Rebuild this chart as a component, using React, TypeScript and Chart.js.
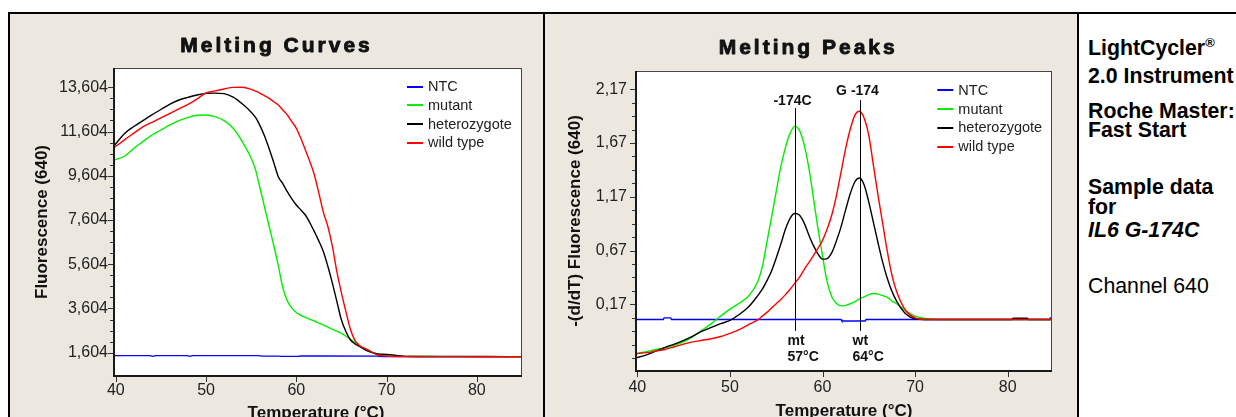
import React, { useEffect, useRef } from 'react';
import { Chart, registerables } from 'chart.js';

Chart.register(...registerables);

const FONT = "'Liberation Sans', Arial, Helvetica, sans-serif";
const BEIGE = '#ece8e0';

// ---------- shared series info ----------
const seriesNames = ['NTC', 'mutant', 'heterozygote', 'wild type'];
const seriesColors = ['#0000ff', '#00ee00', '#000000', '#ff0000'];

// ---------- Melting Curves ----------
const curveTemps = [39.8, 41, 42, 43, 44, 45, 46, 47, 48, 49, 50, 51, 52, 53, 54, 55, 55.5, 56, 56.5, 57, 57.5, 58, 58.5, 59, 59.5, 60, 60.5, 61, 61.5, 62, 62.5, 63, 63.5, 64, 64.5, 65, 65.5, 66, 66.5, 67, 68, 69, 70, 72, 75, 78, 81, 85];
const curveMutant = [10318, 10499, 10845, 11147, 11448, 11674, 11900, 12097, 12247, 12338, 12353, 12277, 12097, 11750, 11150, 10400, 9850, 9000, 8150, 7300, 6450, 5550, 4550, 3950, 3620, 3420, 3290, 3200, 3112, 3037, 2945, 2855, 2760, 2660, 2570, 2479, 2350, 2207, 2060, 1906, 1695, 1544, 1484, 1440, 1430, 1425, 1425, 1420];
const curveHetero = [10950, 11530, 11830, 12100, 12360, 12600, 12840, 13030, 13150, 13257, 13330, 13340, 13320, 13160, 12860, 12480, 12230, 11850, 11380, 10815, 10200, 9564, 9250, 8885, 8560, 8283, 8060, 7830, 7480, 7077, 6650, 6172, 5500, 4740, 3900, 3080, 2550, 2180, 2000, 1890, 1660, 1550, 1530, 1440, 1430, 1430, 1430, 1425];
const curveWild = [10870, 11240, 11530, 11815, 12020, 12220, 12430, 12630, 12830, 13080, 13350, 13440, 13530, 13600, 13604, 13514, 13430, 13333, 13220, 13107, 12950, 12805, 12579, 12353, 12051, 11750, 11297, 10770, 10242, 9640, 8810, 7950, 7300, 6400, 5250, 4300, 3450, 2650, 2150, 1930, 1720, 1500, 1455, 1430, 1425, 1425, 1422, 1420];
const curveNtcTemps = [39.8, 43.8, 44.1, 44.4, 47.9, 48.2, 48.5, 55.8, 56.2, 58, 58.3, 60.2, 60.5, 62.2, 69, 69.5, 85];
const curveNtc = [1470, 1470, 1440, 1470, 1470, 1440, 1470, 1470, 1450, 1450, 1440, 1440, 1455, 1455, 1450, 1430, 1425];
const curveXTicks = [40, 50, 60, 70, 80];
const curveYTicks = [1604, 3604, 5604, 7604, 9604, 11604, 13604];
const curveYTickLabels = ['1,604', '3,604', '5,604', '7,604', '9,604', '11,604', '13,604'];

// ---------- Melting Peaks ----------
const peakTemps = [39.8, 41, 42, 43, 44, 45, 46, 47, 48, 49, 50, 51, 52, 53, 53.5, 54, 54.5, 55, 55.5, 56, 56.5, 57, 57.5, 58, 58.5, 59, 59.5, 60, 60.5, 61, 61.5, 62, 62.5, 63, 63.5, 64, 64.5, 65, 65.5, 66, 66.5, 67, 67.5, 68, 69, 70, 71, 72, 75, 78, 80.4, 80.6, 82.1, 82.3, 85];
const peakMutant = [-0.29, -0.27, -0.25, -0.235, -0.21, -0.18, -0.13, -0.07, -0.01, 0.06, 0.125, 0.18, 0.245, 0.38, 0.52, 0.75, 0.98, 1.22, 1.45, 1.63, 1.76, 1.825, 1.79, 1.66, 1.45, 1.17, 0.88, 0.62, 0.38, 0.24, 0.18, 0.155, 0.16, 0.175, 0.195, 0.22, 0.24, 0.26, 0.27, 0.265, 0.25, 0.235, 0.2, 0.175, 0.11, 0.06, 0.038, 0.03, 0.028, 0.028, 0.028, 0.028, 0.028, 0.028, 0.028];
const peakHetero = [-0.33, -0.3, -0.265, -0.23, -0.2, -0.165, -0.125, -0.08, -0.045, -0.01, 0.02, 0.075, 0.145, 0.25, 0.31, 0.39, 0.48, 0.6, 0.73, 0.87, 0.97, 1.014, 1.0, 0.93, 0.82, 0.72, 0.64, 0.59, 0.595, 0.65, 0.76, 0.89, 1.05, 1.2, 1.31, 1.345, 1.28, 1.12, 0.93, 0.74, 0.56, 0.41, 0.29, 0.2, 0.08, 0.035, 0.028, 0.028, 0.028, 0.028, 0.028, 0.04, 0.04, 0.028, 0.028];
const peakWild = [-0.29, -0.28, -0.265, -0.25, -0.225, -0.2, -0.18, -0.165, -0.15, -0.13, -0.1, -0.065, -0.02, 0.025, 0.06, 0.095, 0.135, 0.175, 0.215, 0.26, 0.31, 0.365, 0.42, 0.49, 0.555, 0.62, 0.69, 0.765, 0.87, 1.0, 1.18, 1.4, 1.62, 1.8, 1.93, 1.965, 1.9, 1.74, 1.46, 1.18, 0.92, 0.66, 0.44, 0.29, 0.11, 0.043, 0.028, 0.028, 0.028, 0.028, 0.028, 0.028, 0.028, 0.028, 0.028];
const peakNtcTemps = [39.8, 42.8, 42.9, 43.6, 43.7, 62.0, 62.1, 64.6, 64.7, 84.5, 84.6, 85];
const peakNtc = [0.028, 0.028, 0.044, 0.044, 0.028, 0.028, 0.014, 0.014, 0.028, 0.028, 0.042, 0.042];
const peakXTicks = [40, 50, 60, 70, 80];
const peakYTicks = [0.17, 0.67, 1.17, 1.67, 2.17];
const peakYTickLabels = ['0,17', '0,67', '1,17', '1,67', '2,17'];

// peak markers
const markerTemps = [57, 64];
const markerTopValues = [1.996, 2.07];
const markerBottomValue = -0.078;
const markerTopLabels = ['-174C', 'G -174'];
const markerGenotypes = ['mt', 'wt'];
const markerTempLabels = ['57°C', '64°C'];

// side notes
const sideNotes = [
  { text: 'LightCycler', sup: '®', bold: true, italic: false },
  { text: '2.0 Instrument', bold: true, italic: false },
  { text: 'Roche Master:', bold: true, italic: false },
  { text: 'Fast Start', bold: true, italic: false },
  { text: 'Sample data', bold: true, italic: false },
  { text: 'for', bold: true, italic: false },
  { text: 'IL6 G-174C', bold: true, italic: true },
  { text: 'Channel 640', bold: false, italic: false },
];
const sideNoteCenters = [47, 75, 110, 129, 186, 206, 229, 285];

type Panel = {
  title: string;
  titleCX: number;
  titleBase: number;
  yTitle: string;
  yTitleX: number;
  xTitle: string;
  xTitleShift: number;
  xTitleBase: number;
  yMajor: number[];
  yMinor: number[];
  xMajor: number[];
  legendX: number;
  legendRows: number[];
  markers: boolean;
};

function makeDecor(p: Panel) {
  return {
    id: 'decor',
    beforeDraw(chart: any) {
      const { ctx, chartArea: a } = chart;
      ctx.save();
      ctx.fillStyle = '#ffffff';
      ctx.fillRect(a.left, a.top, a.right - a.left, a.bottom - a.top);
      ctx.restore();
    },
    afterDraw(chart: any) {
      const { ctx, chartArea: a, scales } = chart;
      const xs = scales.x;
      const ys = scales.y;
      ctx.save();
      // frame
      ctx.fillStyle = '#444';
      ctx.fillRect(a.left, a.top, a.right - a.left, 1);
      ctx.fillRect(a.right - 1, a.top, 1, a.bottom - a.top);
      ctx.fillStyle = '#1a1a1a';
      ctx.fillRect(a.left - 1, a.top, 2, a.bottom - a.top + 1);
      ctx.fillRect(a.left - 1, a.bottom - 1, a.right - a.left + 1, 2);
      // tick marks
      ctx.strokeStyle = '#333';
      ctx.lineWidth = 1;
      ctx.beginPath();
      p.yMajor.forEach((v) => {
        const y = Math.round(ys.getPixelForValue(v)) + 0.5;
        ctx.moveTo(a.left - 6, y);
        ctx.lineTo(a.left - 1, y);
      });
      p.yMinor.forEach((v) => {
        const y = Math.round(ys.getPixelForValue(v)) + 0.5;
        ctx.moveTo(a.left - 4, y);
        ctx.lineTo(a.left - 1, y);
      });
      p.xMajor.forEach((v) => {
        const x = Math.round(xs.getPixelForValue(v)) + 0.5;
        ctx.moveTo(x, a.bottom + 1);
        ctx.lineTo(x, a.bottom + 6);
      });
      ctx.stroke();

      // title (heavy, widely spaced)
      ctx.fillStyle = '#111';
      ctx.strokeStyle = '#111';
      ctx.lineWidth = 0.9;
      ctx.lineJoin = 'round';
      ctx.font = `bold 21px ${FONT}`;
      (ctx as any).letterSpacing = '3px';
      const tw = ctx.measureText(p.title).width - 3;
      ctx.textAlign = 'left';
      ctx.textBaseline = 'alphabetic';
      ctx.fillText(p.title, p.titleCX - tw / 2, p.titleBase);
      ctx.strokeText(p.title, p.titleCX - tw / 2, p.titleBase);
      (ctx as any).letterSpacing = '0px';

      // axis titles
      ctx.font = `bold 17px ${FONT}`;
      ctx.textAlign = 'center';
      ctx.fillText(p.xTitle, (a.left + a.right) / 2 + p.xTitleShift, p.xTitleBase);
      ctx.save();
      ctx.translate(p.yTitleX, (a.top + a.bottom) / 2);
      ctx.rotate(-Math.PI / 2);
      ctx.textBaseline = 'middle';
      ctx.fillText(p.yTitle, 0, 0);
      ctx.restore();

      // legend
      ctx.font = `14.5px ${FONT}`;
      ctx.textAlign = 'left';
      ctx.textBaseline = 'middle';
      seriesNames.forEach((name, i) => {
        const y = p.legendRows[i];
        ctx.fillStyle = seriesColors[i];
        ctx.fillRect(p.legendX, Math.round(y) - 1, 16, 2);
        ctx.fillStyle = '#222';
        ctx.fillText(name, p.legendX + 21, y + 0.5);
      });

      // peak markers
      if (p.markers) {
        ctx.strokeStyle = '#000';
        ctx.lineWidth = 1;
        ctx.font = `bold 14px ${FONT}`;
        ctx.fillStyle = '#111';
        markerTemps.forEach((t, i) => {
          const x = Math.round(xs.getPixelForValue(t)) + 0.5;
          const yTop = ys.getPixelForValue(markerTopValues[i]);
          const yBot = ys.getPixelForValue(markerBottomValue);
          ctx.beginPath();
          ctx.moveTo(x, yTop);
          ctx.lineTo(x, yBot);
          ctx.stroke();
          ctx.textAlign = 'center';
          ctx.textBaseline = 'alphabetic';
          ctx.fillText(markerTopLabels[i], x - 3, yTop - (i === 0 ? 3 : 5));
          ctx.textAlign = 'left';
          ctx.fillText(markerGenotypes[i], x - 8, yBot + 14);
          ctx.fillText(markerTempLabels[i], x - 8, yBot + 30.5);
        });
      }
      ctx.restore();
    },
  };
}

function minorBetween(majors: number[], step: number, lo: number, hi: number) {
  const out: number[] = [];
  const sub = step / 4;
  for (let v = majors[0] - 12 * sub; v <= majors[majors.length - 1] + 12 * sub + 1e-9; v += sub) {
    const isMajor = majors.some((m) => Math.abs(m - v) < sub / 10);
    if (!isMajor && v >= lo && v <= hi) out.push(v);
  }
  return out;
}

function buildChart(
  canvas: HTMLCanvasElement,
  opts: {
    temps: number[];
    series: number[][];
    ntcTemps: number[];
    ntc: number[];
    xMin: number;
    xMax: number;
    yMin: number;
    yMax: number;
    xTicks: number[];
    yTicks: number[];
    yLabels: string[];
    area: { left: number; top: number; right: number; bottom: number };
    yPad: number;
    xPad: number;
    panel: Panel;
  }
) {
  const W = canvas.width;
  const H = canvas.height;
  const datasets: any[] = [
    {
      label: seriesNames[0],
      data: opts.ntcTemps.map((t, i) => ({ x: t, y: opts.ntc[i] })),
      borderColor: seriesColors[0],
      borderWidth: 1.4,
      pointRadius: 0,
      tension: 0,
      order: 3,
    },
  ];
  opts.series.forEach((vals, k) => {
    datasets.push({
      label: seriesNames[k + 1],
      data: opts.temps.map((t, i) => ({ x: t, y: vals[i] })),
      borderColor: seriesColors[k + 1],
      borderWidth: 1.4,
      pointRadius: 0,
      cubicInterpolationMode: 'monotone',
      order: 2 - k,
    });
  });
  return new Chart(canvas, {
    type: 'line',
    data: { datasets },
    options: {
      animation: false,
      responsive: false,
      maintainAspectRatio: false,
      events: [],
      layout: {
        padding: { left: 0, top: opts.area.top, right: W - opts.area.right, bottom: 0 },
      },
      plugins: { legend: { display: false }, tooltip: { enabled: false }, title: { display: false } },
      scales: {
        x: {
          type: 'linear',
          min: opts.xMin,
          max: opts.xMax,
          grid: { display: false, drawTicks: false },
          border: { display: false },
          afterBuildTicks: (s: any) => {
            s.ticks = opts.xTicks.map((v) => ({ value: v }));
          },
          afterFit: (s: any) => {
            s.height = H - opts.area.bottom;
          },
          ticks: {
            autoSkip: false,
            maxRotation: 0,
            padding: opts.xPad,
            color: '#222',
            font: { family: FONT, size: 16 },
            callback: (v: any) => String(v),
          },
        },
        y: {
          type: 'linear',
          min: opts.yMin,
          max: opts.yMax,
          grid: { display: false, drawTicks: false },
          border: { display: false },
          afterBuildTicks: (s: any) => {
            s.ticks = opts.yTicks.map((v) => ({ value: v }));
          },
          afterFit: (s: any) => {
            s.width = opts.area.left;
          },
          ticks: {
            autoSkip: false,
            padding: opts.yPad,
            color: '#222',
            font: { family: FONT, size: 16 },
            callback: (_v: any, i: number) => opts.yLabels[i],
          },
        },
      },
    },
    plugins: [makeDecor(opts.panel)],
  });
}

export default function App() {
  const leftRef = useRef<HTMLCanvasElement>(null);
  const rightRef = useRef<HTMLCanvasElement>(null);

  useEffect(() => {
    const c1 = buildChart(leftRef.current!, {
      temps: curveTemps,
      series: [curveMutant, curveHetero, curveWild],
      ntcTemps: curveNtcTemps,
      ntc: curveNtc,
      xMin: 39.8,
      xMax: 85,
      yMin: 551,
      yMax: 14477,
      xTicks: curveXTicks,
      yTicks: curveYTicks,
      yLabels: curveYTickLabels,
      area: { left: 104, top: 54, right: 512, bottom: 362 },
      yPad: 6,
      xPad: 5,
      panel: {
        title: 'Melting Curves',
        titleCX: 265,
        titleBase: 37.7,
        yTitle: 'Fluorescence (640)',
        yTitleX: 32,
        xTitle: 'Temperature (°C)',
        xTitleShift: -2,
        xTitleBase: 404,
        yMajor: curveYTicks,
        yMinor: minorBetween(curveYTicks, 2000, 1604, 13604),
        xMajor: curveXTicks,
        legendX: 397,
        legendRows: [72.7, 91.3, 110, 128.7],
        markers: false,
      },
    });
    const c2 = buildChart(rightRef.current!, {
      temps: peakTemps,
      series: [peakMutant, peakHetero, peakWild],
      ntcTemps: peakNtcTemps,
      ntc: peakNtc,
      xMin: 39.86,
      xMax: 84.78,
      yMin: -0.4505,
      yMax: 2.34,
      xTicks: peakXTicks,
      yTicks: peakYTicks,
      yLabels: peakYTickLabels,
      area: { left: 91, top: 57, right: 507, bottom: 357 },
      yPad: 9,
      xPad: 7,
      panel: {
        title: 'Melting Peaks',
        titleCX: 261.7,
        titleBase: 40.3,
        yTitle: '-(d/dT) Fluorescence (640)',
        yTitleX: 30,
        xTitle: 'Temperature (°C)',
        xTitleShift: 0,
        xTitleBase: 402,
        yMajor: peakYTicks,
        yMinor: minorBetween(peakYTicks, 0.5, -0.45, 2.2),
        xMajor: peakXTicks,
        legendX: 392.3,
        legendRows: [76, 95, 113.7, 132.7],
        markers: true,
      },
    });
    return () => {
      c1.destroy();
      c2.destroy();
    };
  }, []);

  return (
    <div style={{ position: 'fixed', left: 0, top: 0, width: 1236, height: 417, overflow: 'hidden', background: '#fff' }}>
      <div style={{ position: 'absolute', left: 10, top: 14, width: 533, height: 403, background: BEIGE }} />
      <div style={{ position: 'absolute', left: 545, top: 14, width: 532, height: 403, background: BEIGE }} />
      <div style={{ position: 'absolute', left: 8, top: 12, width: 1228, height: 2, background: '#000' }} />
      <div style={{ position: 'absolute', left: 8, top: 12, width: 2, height: 405, background: '#000' }} />
      <div style={{ position: 'absolute', left: 543, top: 12, width: 2, height: 405, background: '#000' }} />
      <div style={{ position: 'absolute', left: 1077, top: 12, width: 2, height: 405, background: '#000' }} />
      <canvas ref={leftRef} width={533} height={403} style={{ position: 'absolute', left: 10, top: 14, width: 533, height: 403 }} />
      <canvas ref={rightRef} width={532} height={403} style={{ position: 'absolute', left: 545, top: 14, width: 532, height: 403 }} />
      {sideNotes.map((n, i) => (
        <div
          key={i}
          style={{
            position: 'absolute',
            left: 1088,
            top: sideNoteCenters[i] - 11.4,
            fontFamily: FONT,
            fontSize: '21.3px',
            fontWeight: n.bold ? 'bold' : 'normal',
            fontStyle: n.italic ? 'italic' : 'normal',
            lineHeight: '24px',
            whiteSpace: 'nowrap',
            color: '#000',
          }}
        >
          {n.text}
          {n.sup ? <sup style={{ fontSize: '13px', lineHeight: 0 }}>{n.sup}</sup> : null}
        </div>
      ))}
    </div>
  );
}
